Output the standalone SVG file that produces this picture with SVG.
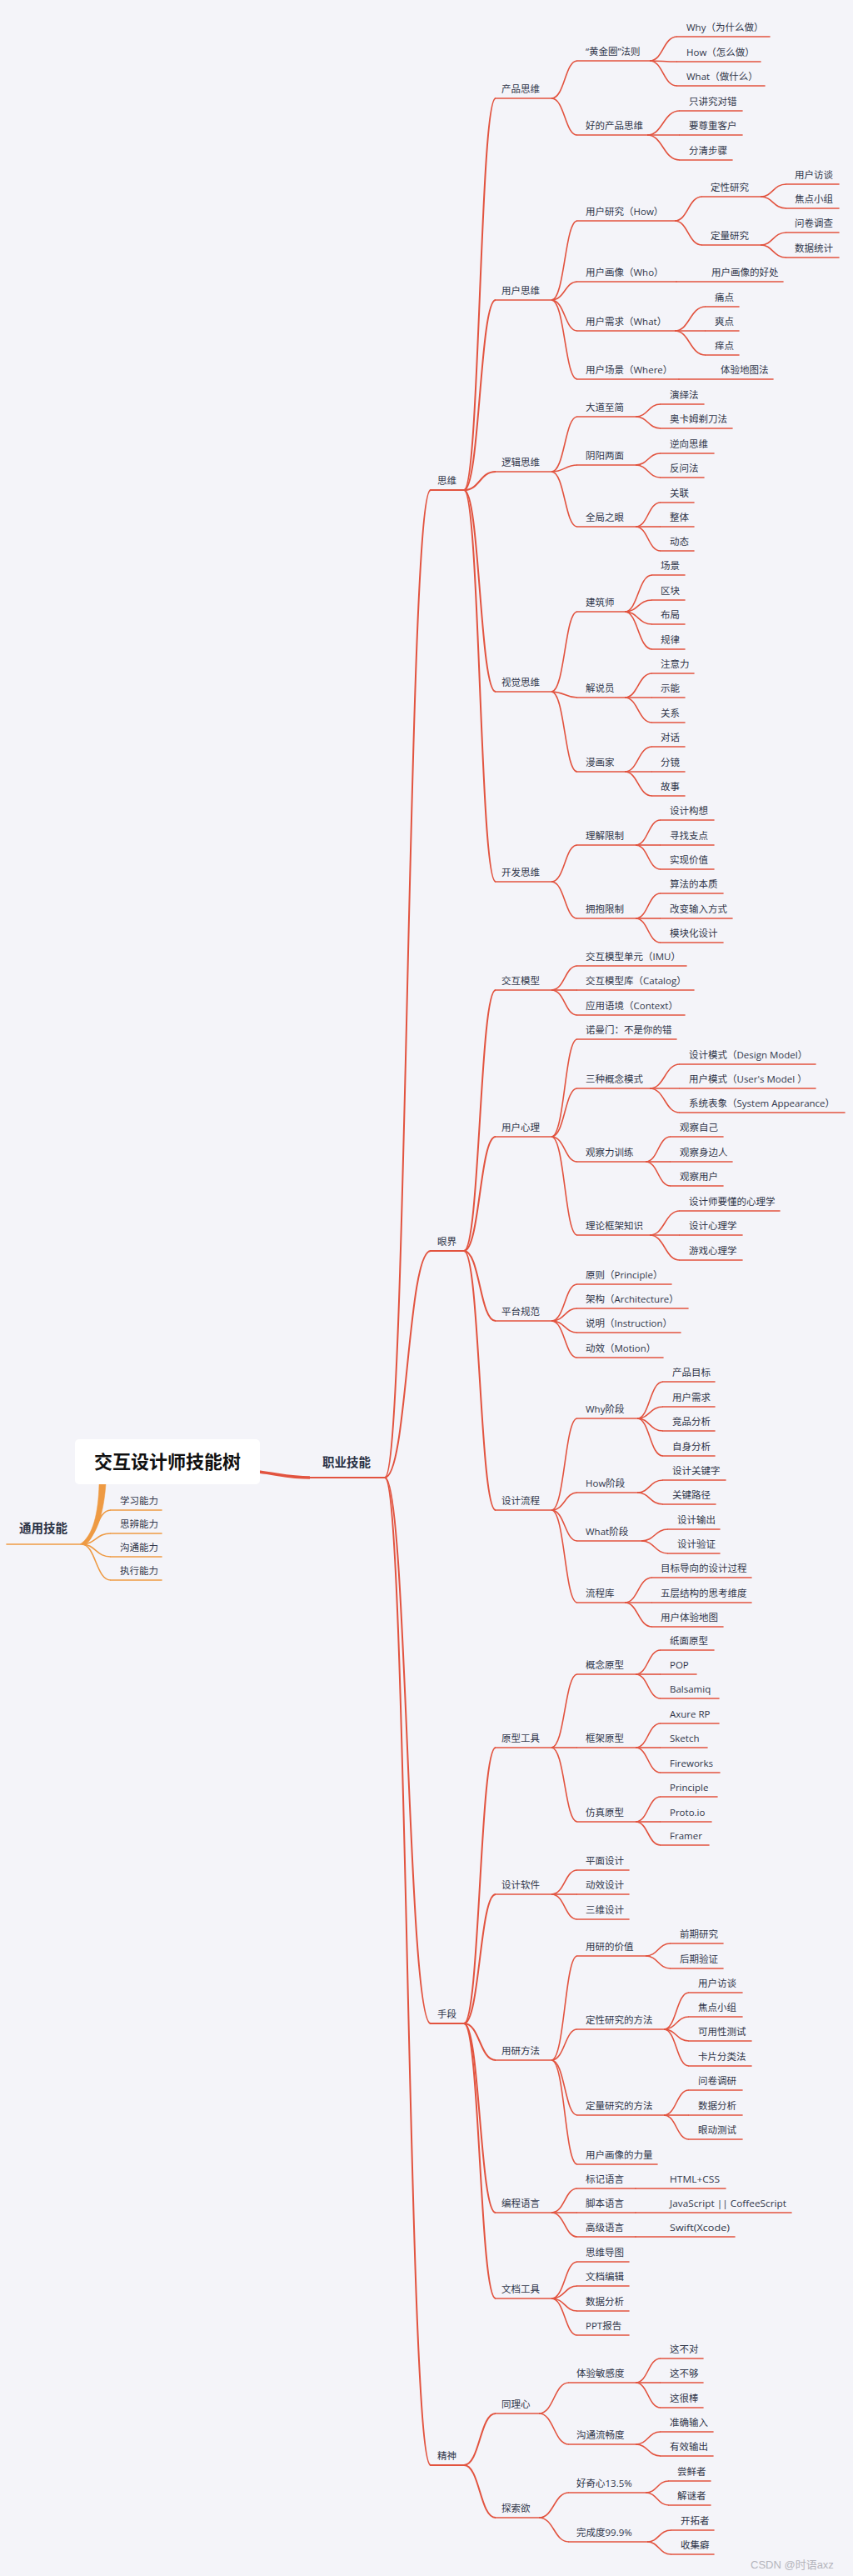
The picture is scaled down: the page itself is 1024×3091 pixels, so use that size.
<svg xmlns="http://www.w3.org/2000/svg" width="1024" height="3091" viewBox="0 0 1024 3091">
<style>
.t{font-family:'Open Sans','Noto Sans CJK SC',sans-serif;font-size:11.5px;fill:#30364a}
.b{font-family:'Open Sans','Noto Sans CJK SC',sans-serif;font-weight:bold;font-size:14.5px;fill:#2b3245}
.u{stroke:#e2533f;stroke-width:1.6;fill:none;stroke-linecap:round}
.u1{stroke:#e2533f;stroke-width:2;fill:none;stroke-linecap:round}
.o{stroke:#ee9a43;stroke-width:1.6;fill:none;stroke-linecap:round}
.c path{fill:none;stroke:#e2533f;stroke-width:1.6}
.c .w{stroke-width:2}
.c .oc{stroke:#ee9a43}
</style>
<rect x="0" y="0" width="1024" height="3091" fill="#f4f4f9"/>
<g id="connectors" class="c">
<path d="M311 1766C340 1770 350 1773 372 1773" style="stroke-width:3.5"/>
<path class="w" d="M372 1773H462"/>
<path class="oc" d="M119 1781C118 1815 112 1843 96 1853L100 1853C115 1845 124 1820 127 1781Z" style="fill:#ee9a43;stroke-width:0.5"/>
<path class="oc" d="M98 1853C115 1853 115 1812 133 1812"/>
<path class="oc" d="M98 1853C115 1853 115 1840 133 1840"/>
<path class="oc" d="M98 1853C115 1853 115 1868 133 1868"/>
<path class="oc" d="M98 1853C115 1853 115 1896 133 1896"/>
<path class="w" d="M462 1773C489 1773 489 588 517 588"/>
<path class="w" d="M462 1773C489 1773 489 1501 517 1501"/>
<path class="w" d="M462 1773C489 1773 489 2428 517 2428"/>
<path class="w" d="M462 1773C489 1773 489 2958 517 2958"/>
<path class="w" d="M557 588C576 588 576 118 595 118"/>
<path class="w" d="M557 588C576 588 576 360 595 360"/>
<path class="w" d="M557 588C576 588 576 566 595 566"/>
<path class="w" d="M557 588C576 588 576 830 595 830"/>
<path class="w" d="M557 588C576 588 576 1058 595 1058"/>
<path d="M662 118C678 118 678 73 693 73"/>
<path d="M662 118C678 118 678 162 693 162"/>
<path d="M780 73C796 73 796 44 813 44"/>
<path d="M780 73C796 73 796 74 813 74"/>
<path d="M780 73C796 73 796 103 813 103"/>
<path d="M777 162C796 162 796 133 816 133"/>
<path d="M777 162C796 162 796 162 816 162"/>
<path d="M777 162C796 162 796 192 816 192"/>
<path d="M662 360C678 360 678 265 693 265"/>
<path d="M662 360C678 360 678 338 693 338"/>
<path d="M662 360C678 360 678 397 693 397"/>
<path d="M662 360C678 360 678 455 693 455"/>
<path d="M810 265C826 265 826 236 843 236"/>
<path d="M810 265C826 265 826 294 843 294"/>
<path d="M913 236C928 236 928 221 944 221"/>
<path d="M913 236C928 236 928 250 944 250"/>
<path d="M913 294C928 294 928 279 944 279"/>
<path d="M913 294C928 294 928 309 944 309"/>
<path d="M810 397C828 397 828 368 847 368"/>
<path d="M810 397C828 397 828 397 847 397"/>
<path d="M810 397C828 397 828 426 847 426"/>
<path d="M662 566C678 566 678 500 693 500"/>
<path d="M662 566C678 566 678 558 693 558"/>
<path d="M662 566C678 566 678 632 693 632"/>
<path d="M763 500C778 500 778 485 793 485"/>
<path d="M763 500C778 500 778 514 793 514"/>
<path d="M763 558C778 558 778 544 793 544"/>
<path d="M763 558C778 558 778 573 793 573"/>
<path d="M763 632C778 632 778 603 793 603"/>
<path d="M763 632C778 632 778 632 793 632"/>
<path d="M763 632C778 632 778 661 793 661"/>
<path d="M662 830C678 830 678 734 693 734"/>
<path d="M662 830C678 830 678 837 693 837"/>
<path d="M662 830C678 830 678 926 693 926"/>
<path d="M750 734C766 734 766 690 783 690"/>
<path d="M750 734C766 734 766 720 783 720"/>
<path d="M750 734C766 734 766 749 783 749"/>
<path d="M750 734C766 734 766 779 783 779"/>
<path d="M750 837C766 837 766 808 783 808"/>
<path d="M750 837C766 837 766 837 783 837"/>
<path d="M750 837C766 837 766 867 783 867"/>
<path d="M750 926C766 926 766 896 783 896"/>
<path d="M750 926C766 926 766 926 783 926"/>
<path d="M750 926C766 926 766 955 783 955"/>
<path d="M662 1058C678 1058 678 1014 693 1014"/>
<path d="M662 1058C678 1058 678 1102 693 1102"/>
<path d="M763 1014C778 1014 778 984 793 984"/>
<path d="M763 1014C778 1014 778 1014 793 1014"/>
<path d="M763 1014C778 1014 778 1043 793 1043"/>
<path d="M763 1102C778 1102 778 1072 793 1072"/>
<path d="M763 1102C778 1102 778 1102 793 1102"/>
<path d="M763 1102C778 1102 778 1131 793 1131"/>
<path class="w" d="M557 1501C576 1501 576 1188 595 1188"/>
<path class="w" d="M557 1501C576 1501 576 1364 595 1364"/>
<path class="w" d="M557 1501C576 1501 576 1585 595 1585"/>
<path class="w" d="M557 1501C576 1501 576 1812 595 1812"/>
<path d="M662 1188C678 1188 678 1159 693 1159"/>
<path d="M662 1188C678 1188 678 1188 693 1188"/>
<path d="M662 1188C678 1188 678 1218 693 1218"/>
<path d="M662 1364C678 1364 678 1247 693 1247"/>
<path d="M662 1364C678 1364 678 1306 693 1306"/>
<path d="M662 1364C678 1364 678 1394 693 1394"/>
<path d="M662 1364C678 1364 678 1482 693 1482"/>
<path d="M780 1306C798 1306 798 1277 816 1277"/>
<path d="M780 1306C798 1306 798 1306 816 1306"/>
<path d="M780 1306C798 1306 798 1335 816 1335"/>
<path d="M775 1394C790 1394 790 1364 805 1364"/>
<path d="M775 1394C790 1394 790 1394 805 1394"/>
<path d="M775 1394C790 1394 790 1423 805 1423"/>
<path d="M780 1482C798 1482 798 1453 816 1453"/>
<path d="M780 1482C798 1482 798 1482 816 1482"/>
<path d="M780 1482C798 1482 798 1512 816 1512"/>
<path d="M662 1585C678 1585 678 1541 693 1541"/>
<path d="M662 1585C678 1585 678 1570 693 1570"/>
<path d="M662 1585C678 1585 678 1599 693 1599"/>
<path d="M662 1585C678 1585 678 1629 693 1629"/>
<path d="M662 1812C678 1812 678 1702 693 1702"/>
<path d="M662 1812C678 1812 678 1791 693 1791"/>
<path d="M662 1812C678 1812 678 1849 693 1849"/>
<path d="M662 1812C678 1812 678 1923 693 1923"/>
<path d="M765 1702C780 1702 780 1658 796 1658"/>
<path d="M765 1702C780 1702 780 1688 796 1688"/>
<path d="M765 1702C780 1702 780 1717 796 1717"/>
<path d="M765 1702C780 1702 780 1747 796 1747"/>
<path d="M765 1791C780 1791 780 1776 796 1776"/>
<path d="M765 1791C780 1791 780 1805 796 1805"/>
<path d="M770 1849C786 1849 786 1835 802 1835"/>
<path d="M770 1849C786 1849 786 1864 802 1864"/>
<path d="M750 1923C766 1923 766 1893 783 1893"/>
<path d="M750 1923C766 1923 766 1923 783 1923"/>
<path d="M750 1923C766 1923 766 1952 783 1952"/>
<path class="w" d="M557 2428C576 2428 576 2097 595 2097"/>
<path class="w" d="M557 2428C576 2428 576 2273 595 2273"/>
<path class="w" d="M557 2428C576 2428 576 2472 595 2472"/>
<path class="w" d="M557 2428C576 2428 576 2655 595 2655"/>
<path class="w" d="M557 2428C576 2428 576 2758 595 2758"/>
<path d="M662 2097C678 2097 678 2009 693 2009"/>
<path d="M662 2097C678 2097 678 2097 693 2097"/>
<path d="M662 2097C678 2097 678 2186 693 2186"/>
<path d="M763 2009C778 2009 778 1980 793 1980"/>
<path d="M763 2009C778 2009 778 2009 793 2009"/>
<path d="M763 2009C778 2009 778 2038 793 2038"/>
<path d="M763 2097C778 2097 778 2068 793 2068"/>
<path d="M763 2097C778 2097 778 2097 793 2097"/>
<path d="M763 2097C778 2097 778 2127 793 2127"/>
<path d="M763 2186C778 2186 778 2156 793 2156"/>
<path d="M763 2186C778 2186 778 2186 793 2186"/>
<path d="M763 2186C778 2186 778 2214 793 2214"/>
<path d="M662 2273C678 2273 678 2244 693 2244"/>
<path d="M662 2273C678 2273 678 2273 693 2273"/>
<path d="M662 2273C678 2273 678 2303 693 2303"/>
<path d="M662 2472C678 2472 678 2347 693 2347"/>
<path d="M662 2472C678 2472 678 2435 693 2435"/>
<path d="M662 2472C678 2472 678 2538 693 2538"/>
<path d="M662 2472C678 2472 678 2597 693 2597"/>
<path d="M775 2347C790 2347 790 2332 805 2332"/>
<path d="M775 2347C790 2347 790 2362 805 2362"/>
<path d="M797 2435C812 2435 812 2391 827 2391"/>
<path d="M797 2435C812 2435 812 2420 827 2420"/>
<path d="M797 2435C812 2435 812 2449 827 2449"/>
<path d="M797 2435C812 2435 812 2479 827 2479"/>
<path d="M797 2538C812 2538 812 2508 827 2508"/>
<path d="M797 2538C812 2538 812 2538 827 2538"/>
<path d="M797 2538C812 2538 812 2567 827 2567"/>
<path d="M662 2655C678 2655 678 2626 693 2626"/>
<path d="M662 2655C678 2655 678 2655 693 2655"/>
<path d="M662 2655C678 2655 678 2684 693 2684"/>
<path d="M662 2758C678 2758 678 2714 693 2714"/>
<path d="M662 2758C678 2758 678 2743 693 2743"/>
<path d="M662 2758C678 2758 678 2773 693 2773"/>
<path d="M662 2758C678 2758 678 2802 693 2802"/>
<path class="w" d="M557 2958C576 2958 576 2896 595 2896"/>
<path class="w" d="M557 2958C576 2958 576 3021 595 3021"/>
<path d="M647 2896C665 2896 665 2859 683 2859"/>
<path d="M647 2896C665 2896 665 2933 683 2933"/>
<path d="M763 2859C778 2859 778 2830 793 2830"/>
<path d="M763 2859C778 2859 778 2859 793 2859"/>
<path d="M763 2859C778 2859 778 2889 793 2889"/>
<path d="M763 2933C778 2933 778 2918 793 2918"/>
<path d="M763 2933C778 2933 778 2947 793 2947"/>
<path d="M647 3021C665 3021 665 2991 683 2991"/>
<path d="M647 3021C665 3021 665 3050 683 3050"/>
<path d="M775 2991C789 2991 789 2977 803 2977"/>
<path d="M775 2991C789 2991 789 3006 803 3006"/>
<path d="M777 3050C791 3050 791 3036 806 3036"/>
<path d="M777 3050C791 3050 791 3065 806 3065"/>
</g>
<g id="title"><rect x="90" y="1727" width="222" height="54" rx="5" fill="#ffffff"/><text x="201" y="1762" text-anchor="middle" style="font-family:'Noto Sans CJK SC',sans-serif;font-weight:bold;font-size:22px;fill:#111111">交互设计师技能树</text></g>
<g id="n-zhiye"><text class="b" x="387" y="1760">职业技能</text></g>
<g id="n-tongyong"><path class="o" d="M8 1853H98"/><text class="b" x="23" y="1839">通用技能</text></g>
<g id="n-xuexi"><path class="o" d="M133 1812H194"/><text class="t" x="144" y="1805">学习能力</text></g>
<g id="n-sibian"><path class="o" d="M133 1840H194"/><text class="t" x="144" y="1833">思辨能力</text></g>
<g id="n-goutong"><path class="o" d="M133 1868H194"/><text class="t" x="144" y="1861">沟通能力</text></g>
<g id="n-zhixing"><path class="o" d="M133 1896H194"/><text class="t" x="144" y="1889">执行能力</text></g>
<g id="n-siwei"><path class="u1" d="M517 588H557"/><text class="t" x="525" y="581">思维</text></g>
<g id="n-yanjie"><path class="u1" d="M517 1501H557"/><text class="t" x="525" y="1494">眼界</text></g>
<g id="n-shouduan"><path class="u1" d="M517 2428H557"/><text class="t" x="525" y="2421">手段</text></g>
<g id="n-jingshen"><path class="u1" d="M517 2958H557"/><text class="t" x="525" y="2951">精神</text></g>
<g id="n-cpsw"><path class="u" d="M595 118H662"/><text class="t" x="602" y="111">产品思维</text></g>
<g id="n-hjq"><path class="u" d="M693 73H780"/><text class="t" x="703" y="66">“黄金圈”法则</text></g>
<g id="n-why"><path class="u" d="M813 44H924"/><text class="t" x="824" y="37">Why（为什么做）</text></g>
<g id="n-how"><path class="u" d="M813 74H913"/><text class="t" x="824" y="67">How（怎么做）</text></g>
<g id="n-what"><path class="u" d="M813 103H918"/><text class="t" x="824" y="96">What（做什么）</text></g>
<g id="n-hdcp"><path class="u" d="M693 162H777"/><text class="t" x="703" y="155">好的产品思维</text></g>
<g id="n-zjj"><path class="u" d="M816 133H891"/><text class="t" x="827" y="126">只讲究对错</text></g>
<g id="n-yzz"><path class="u" d="M816 162H891"/><text class="t" x="827" y="155">要尊重客户</text></g>
<g id="n-fqb"><path class="u" d="M816 192H879"/><text class="t" x="827" y="185">分清步骤</text></g>
<g id="n-yhsw"><path class="u" d="M595 360H662"/><text class="t" x="602" y="353">用户思维</text></g>
<g id="n-yhyj"><path class="u" d="M693 265H810"/><text class="t" x="703" y="258">用户研究（How）</text></g>
<g id="n-dxyj"><path class="u" d="M843 236H913"/><text class="t" x="853" y="229">定性研究</text></g>
<g id="n-yhft"><path class="u" d="M944 221H1007"/><text class="t" x="954" y="214">用户访谈</text></g>
<g id="n-jdxz"><path class="u" d="M944 250H1007"/><text class="t" x="954" y="243">焦点小组</text></g>
<g id="n-dlyj"><path class="u" d="M843 294H913"/><text class="t" x="853" y="287">定量研究</text></g>
<g id="n-wjdc"><path class="u" d="M944 279H1007"/><text class="t" x="954" y="272">问卷调查</text></g>
<g id="n-sjtj"><path class="u" d="M944 309H1007"/><text class="t" x="954" y="302">数据统计</text></g>
<g id="n-yhhx"><path class="u" d="M693 338H812"/><text class="t" x="703" y="331">用户画像（Who）</text></g>
<g id="n-hxhc"><path class="u" d="M812 338H940"/><text class="t" x="854" y="331">用户画像的好处</text></g>
<g id="n-yhxq"><path class="u" d="M693 397H810"/><text class="t" x="703" y="390">用户需求（What）</text></g>
<g id="n-td"><path class="u" d="M847 368H887"/><text class="t" x="858" y="361">痛点</text></g>
<g id="n-sd"><path class="u" d="M847 397H887"/><text class="t" x="858" y="390">爽点</text></g>
<g id="n-yd"><path class="u" d="M847 426H887"/><text class="t" x="858" y="419">痒点</text></g>
<g id="n-yhcj"><path class="u" d="M693 455H815"/><text class="t" x="703" y="448">用户场景（Where）</text></g>
<g id="n-tydt"><path class="u" d="M815 455H928"/><text class="t" x="865" y="448">体验地图法</text></g>
<g id="n-ljsw"><path class="u" d="M595 566H662"/><text class="t" x="602" y="559">逻辑思维</text></g>
<g id="n-ddzj"><path class="u" d="M693 500H763"/><text class="t" x="703" y="493">大道至简</text></g>
<g id="n-yyf"><path class="u" d="M793 485H845"/><text class="t" x="804" y="478">演绎法</text></g>
<g id="n-akm"><path class="u" d="M793 514H879"/><text class="t" x="804" y="507">奥卡姆剃刀法</text></g>
<g id="n-yylm"><path class="u" d="M693 558H763"/><text class="t" x="703" y="551">阴阳两面</text></g>
<g id="n-nxsw"><path class="u" d="M793 544H857"/><text class="t" x="804" y="537">逆向思维</text></g>
<g id="n-fwf"><path class="u" d="M793 573H845"/><text class="t" x="804" y="566">反问法</text></g>
<g id="n-qjzy"><path class="u" d="M693 632H763"/><text class="t" x="703" y="625">全局之眼</text></g>
<g id="n-gl"><path class="u" d="M793 603H833"/><text class="t" x="804" y="596">关联</text></g>
<g id="n-zt"><path class="u" d="M793 632H833"/><text class="t" x="804" y="625">整体</text></g>
<g id="n-dt"><path class="u" d="M793 661H833"/><text class="t" x="804" y="654">动态</text></g>
<g id="n-sjsw"><path class="u" d="M595 830H662"/><text class="t" x="602" y="823">视觉思维</text></g>
<g id="n-jzs"><path class="u" d="M693 734H750"/><text class="t" x="703" y="727">建筑师</text></g>
<g id="n-cj"><path class="u" d="M783 690H822"/><text class="t" x="793" y="683">场景</text></g>
<g id="n-qk"><path class="u" d="M783 720H822"/><text class="t" x="793" y="713">区块</text></g>
<g id="n-bj"><path class="u" d="M783 749H822"/><text class="t" x="793" y="742">布局</text></g>
<g id="n-gll"><path class="u" d="M783 779H822"/><text class="t" x="793" y="772">规律</text></g>
<g id="n-jsy"><path class="u" d="M693 837H750"/><text class="t" x="703" y="830">解说员</text></g>
<g id="n-zyl"><path class="u" d="M783 808H833"/><text class="t" x="793" y="801">注意力</text></g>
<g id="n-sn"><path class="u" d="M783 837H822"/><text class="t" x="793" y="830">示能</text></g>
<g id="n-gx"><path class="u" d="M783 867H822"/><text class="t" x="793" y="860">关系</text></g>
<g id="n-mhj"><path class="u" d="M693 926H750"/><text class="t" x="703" y="919">漫画家</text></g>
<g id="n-dh"><path class="u" d="M783 896H822"/><text class="t" x="793" y="889">对话</text></g>
<g id="n-fj"><path class="u" d="M783 926H822"/><text class="t" x="793" y="919">分镜</text></g>
<g id="n-gs"><path class="u" d="M783 955H822"/><text class="t" x="793" y="948">故事</text></g>
<g id="n-kfsw"><path class="u" d="M595 1058H662"/><text class="t" x="602" y="1051">开发思维</text></g>
<g id="n-ljxz"><path class="u" d="M693 1014H763"/><text class="t" x="703" y="1007">理解限制</text></g>
<g id="n-sjgx"><path class="u" d="M793 984H857"/><text class="t" x="804" y="977">设计构想</text></g>
<g id="n-xzzd"><path class="u" d="M793 1014H857"/><text class="t" x="804" y="1007">寻找支点</text></g>
<g id="n-sxjz"><path class="u" d="M793 1043H857"/><text class="t" x="804" y="1036">实现价值</text></g>
<g id="n-ybxz"><path class="u" d="M693 1102H763"/><text class="t" x="703" y="1095">拥抱限制</text></g>
<g id="n-sfbz"><path class="u" d="M793 1072H868"/><text class="t" x="804" y="1065">算法的本质</text></g>
<g id="n-gbsr"><path class="u" d="M793 1102H879"/><text class="t" x="804" y="1095">改变输入方式</text></g>
<g id="n-mkh"><path class="u" d="M793 1131H868"/><text class="t" x="804" y="1124">模块化设计</text></g>
<g id="n-jhmx"><path class="u" d="M595 1188H662"/><text class="t" x="602" y="1181">交互模型</text></g>
<g id="n-imu"><path class="u" d="M693 1159H824"/><text class="t" x="703" y="1152">交互模型单元（IMU）</text></g>
<g id="n-catalog"><path class="u" d="M693 1188H833"/><text class="t" x="703" y="1181">交互模型库（Catalog）</text></g>
<g id="n-context"><path class="u" d="M693 1218H822"/><text class="t" x="703" y="1211">应用语境（Context）</text></g>
<g id="n-yhxl"><path class="u" d="M595 1364H662"/><text class="t" x="602" y="1357">用户心理</text></g>
<g id="n-nmm"><path class="u" d="M693 1247H812"/><text class="t" x="703" y="1240">诺曼门：不是你的错</text></g>
<g id="n-szgn"><path class="u" d="M693 1306H780"/><text class="t" x="703" y="1299">三种概念模式</text></g>
<g id="n-sjms"><path class="u" d="M816 1277H979"/><text class="t" x="827" y="1270">设计模式（Design Model）</text></g>
<g id="n-yhms"><path class="u" d="M816 1306H979"/><text class="t" x="827" y="1299">用户模式（User's  Model ）</text></g>
<g id="n-xtbx"><path class="u" d="M816 1335H1014"/><text class="t" x="827" y="1328">系统表象（System Appearance）</text></g>
<g id="n-gclxl"><path class="u" d="M693 1394H775"/><text class="t" x="703" y="1387">观察力训练</text></g>
<g id="n-gczj"><path class="u" d="M805 1364H868"/><text class="t" x="816" y="1357">观察自己</text></g>
<g id="n-gcsbr"><path class="u" d="M805 1394H879"/><text class="t" x="816" y="1387">观察身边人</text></g>
<g id="n-gcyh"><path class="u" d="M805 1423H868"/><text class="t" x="816" y="1416">观察用户</text></g>
<g id="n-llkj"><path class="u" d="M693 1482H780"/><text class="t" x="703" y="1475">理论框架知识</text></g>
<g id="n-sjsxl"><path class="u" d="M816 1453H936"/><text class="t" x="827" y="1446">设计师要懂的心理学</text></g>
<g id="n-sjxlx"><path class="u" d="M816 1482H891"/><text class="t" x="827" y="1475">设计心理学</text></g>
<g id="n-yxxlx"><path class="u" d="M816 1512H891"/><text class="t" x="827" y="1505">游戏心理学</text></g>
<g id="n-ptgf"><path class="u" d="M595 1585H662"/><text class="t" x="602" y="1578">平台规范</text></g>
<g id="n-yz"><path class="u" d="M693 1541H806"/><text class="t" x="703" y="1534">原则（Principle）</text></g>
<g id="n-jg"><path class="u" d="M693 1570H826"/><text class="t" x="703" y="1563">架构（Architecture）</text></g>
<g id="n-sm"><path class="u" d="M693 1599H817"/><text class="t" x="703" y="1592">说明（Instruction）</text></g>
<g id="n-dx"><path class="u" d="M693 1629H796"/><text class="t" x="703" y="1622">动效（Motion）</text></g>
<g id="n-sjlc"><path class="u" d="M595 1812H662"/><text class="t" x="602" y="1805">设计流程</text></g>
<g id="n-whyjd"><path class="u" d="M693 1702H765"/><text class="t" x="703" y="1695">Why阶段</text></g>
<g id="n-cpmb"><path class="u" d="M796 1658H858"/><text class="t" x="807" y="1651">产品目标</text></g>
<g id="n-yhxq2"><path class="u" d="M796 1688H858"/><text class="t" x="807" y="1681">用户需求</text></g>
<g id="n-jpfx"><path class="u" d="M796 1717H858"/><text class="t" x="807" y="1710">竞品分析</text></g>
<g id="n-zsfx"><path class="u" d="M796 1747H858"/><text class="t" x="807" y="1740">自身分析</text></g>
<g id="n-howjd"><path class="u" d="M693 1791H765"/><text class="t" x="703" y="1784">How阶段</text></g>
<g id="n-sjgjz"><path class="u" d="M796 1776H871"/><text class="t" x="807" y="1769">设计关键字</text></g>
<g id="n-gjlj"><path class="u" d="M796 1805H859"/><text class="t" x="807" y="1798">关键路径</text></g>
<g id="n-whatjd"><path class="u" d="M693 1849H770"/><text class="t" x="703" y="1842">What阶段</text></g>
<g id="n-sjsc"><path class="u" d="M802 1835H864"/><text class="t" x="813" y="1828">设计输出</text></g>
<g id="n-sjyz"><path class="u" d="M802 1864H864"/><text class="t" x="813" y="1857">设计验证</text></g>
<g id="n-lck"><path class="u" d="M693 1923H750"/><text class="t" x="703" y="1916">流程库</text></g>
<g id="n-mbdx"><path class="u" d="M783 1893H902"/><text class="t" x="793" y="1886">目标导向的设计过程</text></g>
<g id="n-wcjg"><path class="u" d="M783 1923H902"/><text class="t" x="793" y="1916">五层结构的思考维度</text></g>
<g id="n-yhtydt"><path class="u" d="M783 1952H868"/><text class="t" x="793" y="1945">用户体验地图</text></g>
<g id="n-yxgj"><path class="u" d="M595 2097H662"/><text class="t" x="602" y="2090">原型工具</text></g>
<g id="n-gnyx"><path class="u" d="M693 2009H763"/><text class="t" x="703" y="2002">概念原型</text></g>
<g id="n-zmyx"><path class="u" d="M793 1980H857"/><text class="t" x="804" y="1973">纸面原型</text></g>
<g id="n-pop"><path class="u" d="M793 2009H836"/><text class="t" x="804" y="2002">POP</text></g>
<g id="n-bals"><path class="u" d="M793 2038H863"/><text class="t" x="804" y="2031">Balsamiq</text></g>
<g id="n-kjyx"><path class="u" d="M693 2097H763"/><text class="t" x="703" y="2090">框架原型</text></g>
<g id="n-axure"><path class="u" d="M793 2068H863"/><text class="t" x="804" y="2061">Axure RP</text></g>
<g id="n-sketch"><path class="u" d="M793 2097H849"/><text class="t" x="804" y="2090">Sketch</text></g>
<g id="n-fw"><path class="u" d="M793 2127H864"/><text class="t" x="804" y="2120">Fireworks</text></g>
<g id="n-fzyx"><path class="u" d="M693 2186H763"/><text class="t" x="703" y="2179">仿真原型</text></g>
<g id="n-principle"><path class="u" d="M793 2156H861"/><text class="t" x="804" y="2149">Principle</text></g>
<g id="n-protoio"><path class="u" d="M793 2186H854"/><text class="t" x="804" y="2179">Proto.io</text></g>
<g id="n-framer"><path class="u" d="M793 2214H851"/><text class="t" x="804" y="2207">Framer</text></g>
<g id="n-sjrj"><path class="u" d="M595 2273H662"/><text class="t" x="602" y="2266">设计软件</text></g>
<g id="n-pmsj"><path class="u" d="M693 2244H755"/><text class="t" x="703" y="2237">平面设计</text></g>
<g id="n-dxsj"><path class="u" d="M693 2273H755"/><text class="t" x="703" y="2266">动效设计</text></g>
<g id="n-swsj"><path class="u" d="M693 2303H755"/><text class="t" x="703" y="2296">三维设计</text></g>
<g id="n-yyff"><path class="u" d="M595 2472H662"/><text class="t" x="602" y="2465">用研方法</text></g>
<g id="n-yydjz"><path class="u" d="M693 2347H775"/><text class="t" x="703" y="2340">用研的价值</text></g>
<g id="n-qqyj"><path class="u" d="M805 2332H868"/><text class="t" x="816" y="2325">前期研究</text></g>
<g id="n-hqyz"><path class="u" d="M805 2362H868"/><text class="t" x="816" y="2355">后期验证</text></g>
<g id="n-dxff"><path class="u" d="M693 2435H797"/><text class="t" x="703" y="2428">定性研究的方法</text></g>
<g id="n-yhft2"><path class="u" d="M827 2391H891"/><text class="t" x="838" y="2384">用户访谈</text></g>
<g id="n-jdxz2"><path class="u" d="M827 2420H891"/><text class="t" x="838" y="2413">焦点小组</text></g>
<g id="n-kyxcs"><path class="u" d="M827 2449H902"/><text class="t" x="838" y="2442">可用性测试</text></g>
<g id="n-kpfl"><path class="u" d="M827 2479H902"/><text class="t" x="838" y="2472">卡片分类法</text></g>
<g id="n-dlff"><path class="u" d="M693 2538H797"/><text class="t" x="703" y="2531">定量研究的方法</text></g>
<g id="n-wjdy"><path class="u" d="M827 2508H891"/><text class="t" x="838" y="2501">问卷调研</text></g>
<g id="n-sjfx"><path class="u" d="M827 2538H891"/><text class="t" x="838" y="2531">数据分析</text></g>
<g id="n-ydcs"><path class="u" d="M827 2567H891"/><text class="t" x="838" y="2560">眼动测试</text></g>
<g id="n-hxll"><path class="u" d="M693 2597H789"/><text class="t" x="703" y="2590">用户画像的力量</text></g>
<g id="n-bcyy"><path class="u" d="M595 2655H662"/><text class="t" x="602" y="2648">编程语言</text></g>
<g id="n-bjyy"><path class="u" d="M693 2626H763"/><text class="t" x="703" y="2619">标记语言</text></g>
<g id="n-html"><path class="u" d="M763 2626H871"/><text class="t" x="804" y="2619" textLength="60" lengthAdjust="spacingAndGlyphs">HTML+CSS</text></g>
<g id="n-jbyy"><path class="u" d="M693 2655H763"/><text class="t" x="703" y="2648">脚本语言</text></g>
<g id="n-js"><path class="u" d="M763 2655H950"/><text class="t" x="804" y="2648" textLength="140" lengthAdjust="spacingAndGlyphs">JavaScript || CoffeeScript</text></g>
<g id="n-gjyy"><path class="u" d="M693 2684H763"/><text class="t" x="703" y="2677">高级语言</text></g>
<g id="n-swift"><path class="u" d="M763 2684H882"/><text class="t" x="804" y="2677" textLength="72" lengthAdjust="spacingAndGlyphs">Swift(Xcode)</text></g>
<g id="n-wdgj"><path class="u" d="M595 2758H662"/><text class="t" x="602" y="2751">文档工具</text></g>
<g id="n-swdt"><path class="u" d="M693 2714H755"/><text class="t" x="703" y="2707">思维导图</text></g>
<g id="n-wdbj"><path class="u" d="M693 2743H755"/><text class="t" x="703" y="2736">文档编辑</text></g>
<g id="n-sjfx2"><path class="u" d="M693 2773H755"/><text class="t" x="703" y="2766">数据分析</text></g>
<g id="n-ppt"><path class="u" d="M693 2802H755"/><text class="t" x="703" y="2795">PPT报告</text></g>
<g id="n-tlx"><path class="u" d="M595 2896H647"/><text class="t" x="602" y="2889">同理心</text></g>
<g id="n-tymgd"><path class="u" d="M683 2859H763"/><text class="t" x="692" y="2852">体验敏感度</text></g>
<g id="n-zbd"><path class="u" d="M793 2830H844"/><text class="t" x="804" y="2823">这不对</text></g>
<g id="n-zbg"><path class="u" d="M793 2859H844"/><text class="t" x="804" y="2852">这不够</text></g>
<g id="n-zhb"><path class="u" d="M793 2889H844"/><text class="t" x="804" y="2882">这很棒</text></g>
<g id="n-gtlcd"><path class="u" d="M683 2933H763"/><text class="t" x="692" y="2926">沟通流畅度</text></g>
<g id="n-zqsr"><path class="u" d="M793 2918H856"/><text class="t" x="804" y="2911">准确输入</text></g>
<g id="n-yxsc"><path class="u" d="M793 2947H856"/><text class="t" x="804" y="2940">有效输出</text></g>
<g id="n-tsy"><path class="u" d="M595 3021H647"/><text class="t" x="602" y="3014">探索欲</text></g>
<g id="n-hqx"><path class="u" d="M683 2991H775"/><text class="t" x="692" y="2984">好奇心13.5%</text></g>
<g id="n-cxz"><path class="u" d="M803 2977H853"/><text class="t" x="813" y="2970">尝鲜者</text></g>
<g id="n-jmz"><path class="u" d="M803 3006H853"/><text class="t" x="813" y="2999">解谜者</text></g>
<g id="n-wcd"><path class="u" d="M683 3050H777"/><text class="t" x="692" y="3043">完成度99.9%</text></g>
<g id="n-ktz"><path class="u" d="M806 3036H857"/><text class="t" x="817" y="3029">开拓者</text></g>
<g id="n-sjp"><path class="u" d="M806 3065H857"/><text class="t" x="817" y="3058">收集癖</text></g>
<text x="901" y="3082" style="font-family:'Liberation Sans','Noto Sans CJK SC',sans-serif;font-size:13px;fill:#b4b4bc">CSDN @时语axz</text>
</svg>
